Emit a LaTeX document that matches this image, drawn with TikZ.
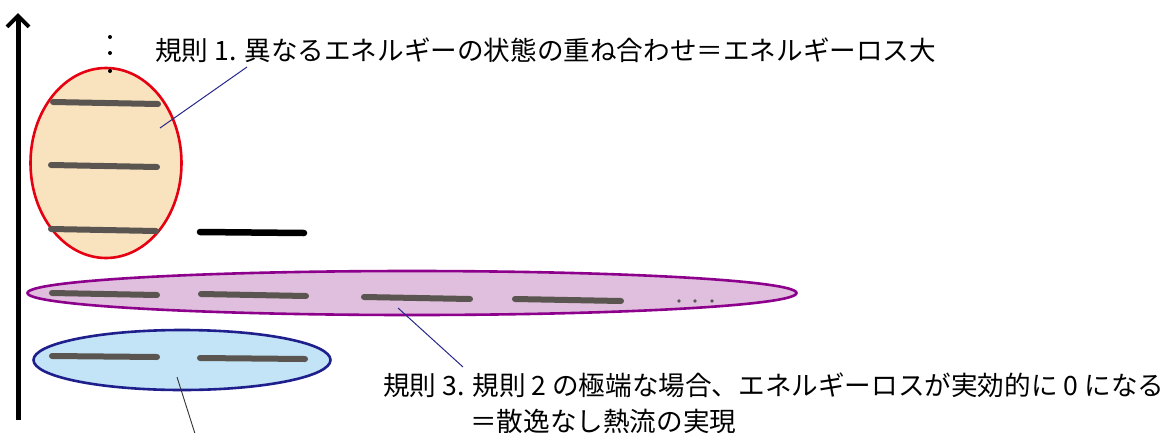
\documentclass[tikz,border=0pt]{standalone}
\usepackage{fontspec}
\newfontfamily\jpfont{Noto Sans CJK JP}
\usetikzlibrary{shapes}
\usetikzlibrary{positioning}
\usetikzlibrary{arrows.meta}

\definecolor{orangefill}{RGB}{249,226,190}
\definecolor{redline}{RGB}{230,0,18}
\definecolor{purplefill}{RGB}{224,190,221}
\definecolor{purpleline}{RGB}{140,0,140}
\definecolor{bluefill}{RGB}{194,228,246}
\definecolor{blueline}{RGB}{30,30,140}
\definecolor{levelgray}{RGB}{90,85,80}
\definecolor{leaderblue}{RGB}{40,40,140}

\tikzset{
  band/.style={draw, ellipse, line width=2.6pt, inner sep=0pt},
  level/.style={levelgray, line width=6pt, line cap=round},
  leader/.style={leaderblue, line width=1pt},
  rule/.style={font=\jpfont\fontsize{26.6}{30}\selectfont, inner sep=0pt, anchor=west}
}

\begin{document}
\begin{tikzpicture}[x=1pt, y=-1pt]
    \useasboundingbox (0,0) rectangle (1168,432);

    % energy axis
    \coordinate(axisB) at (18,420);
    \coordinate(axisT) at (18,13);
    \draw[line width=5pt, -{Straight Barb[length=11pt, width=22pt, line width=4pt]}] (axisB) -- (axisT);

    % ellipses
    \node(Eorange)[band, redline, fill=orangefill, minimum width=151pt, minimum height=190pt] at (106,163){};
    \node(Epurple)[band, purpleline, fill=purplefill, minimum width=769pt, minimum height=44pt] at (412,293){};
    \node(Eblue)[band, blueline, fill=bluefill, minimum width=297pt, minimum height=60pt] at (182,360){};

    % vertical dots
    \foreach \y in {37,53,71}
        \fill (110,\y) circle (2pt);

    % levels
    \draw[level] (53,102) -- (158,104);
    \draw[level] (51,165) -- (157,167);
    \draw[level] (51,229) -- (156,231);
    \draw[level, black, line width=6.5pt] (200,232) -- (304,233);

    \draw[level] (52,293) -- (157,295);
    \draw[level] (201,294) -- (306,296);
    \draw[level] (364,297) -- (470,299);
    \draw[level] (515,299) -- (621,301);
    \foreach \x in {679,695,712}
        \fill[levelgray] (\x,301) circle (1.8pt);

    \draw[level] (52,356) -- (157,357);
    \draw[level] (200,358) -- (305,359);

    % labels
    \node(R1)[rule] at (155,50){規則 1. 異なるエネルギーの状態の重ね合わせ＝エネルギーロス大};
    \node(R3)[rule] at (383,385){規則 3. 規則 2 の極端な場合、エネルギーロスが実効的に 0 になる};
    \node(R3b)[rule] at (470,421){＝散逸なし熱流の実現};

    % leaders
    \coordinate(P1) at (160,128);
    \coordinate(P1t) at (247,67);
    \draw[leader] (P1t) -- (P1);
    \coordinate(P3) at (398,308);
    \coordinate(P3t) at (463,367);
    \draw[leader] (P3) -- (P3t);
    \coordinate(P2) at (177,377);
    \coordinate(P2t) at (197,440);
    \draw[line width=0.9pt, black!80] (P2) -- (P2t);

\end{tikzpicture}
\end{document}
